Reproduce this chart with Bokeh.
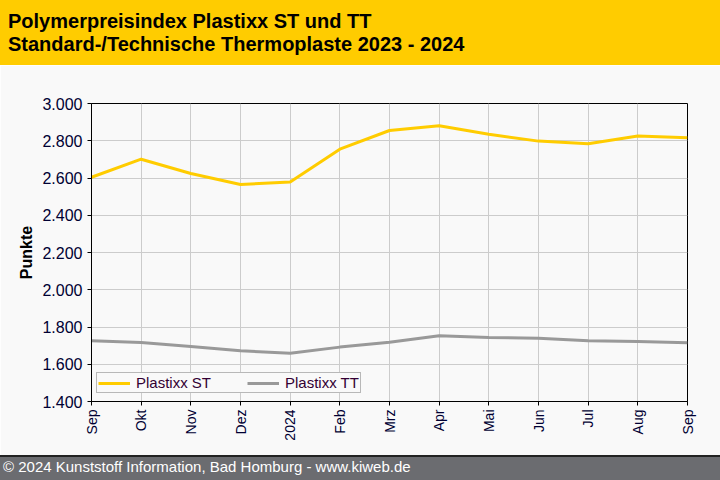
import math
from bokeh.plotting import figure
from bokeh.models import Range1d, FixedTicker, Div, Legend
from bokeh.layouts import column
from bokeh.embed import file_html
from bokeh.resources import INLINE

# ---- data ----
months = ["Sep", "Okt", "Nov", "Dez", "2024", "Feb", "Mrz", "Apr", "Mai", "Jun", "Jul", "Aug", "Sep"]
plastixx_st = [2604, 2701, 2624, 2565, 2578, 2755, 2855, 2880, 2835, 2798, 2784, 2826, 2816]
plastixx_tt = [1726, 1717, 1695, 1672, 1659, 1692, 1718, 1753, 1744, 1740, 1726, 1722, 1715]
y_ticks = [1400, 1600, 1800, 2000, 2200, 2400, 2600, 2800, 3000]
y_tick_labels = ["1.400", "1.600", "1.800", "2.000", "2.200", "2.400", "2.600", "2.800", "3.000"]
title_lines = ["Polymerpreisindex Plastixx ST und TT", "Standard-/Technische Thermoplaste 2023 - 2024"]
footer_text = "\u00a9 2024 Kunststoff Information, Bad Homburg - www.kiweb.de"

FONT = "Liberation Sans"
BG = "#f9f9f9"
x = list(range(len(months)))

header = Div(
    text=("<div style=\"font-family:'Liberation Sans',Arial,sans-serif;font-size:20px;"
          "font-weight:bold;color:#000;line-height:23px;padding:10px 0 0 8px;white-space:nowrap;\">"
          + title_lines[0] + "<br>" + title_lines[1] + "</div>"),
    width=720, height=65, margin=(0, 0, 0, 0),
    styles={"background-color": "#ffcc00", "overflow": "hidden"},
)

p = figure(width=720, height=390, output_backend="svg", toolbar_location=None,
           x_range=Range1d(0, 12), y_range=Range1d(1400, 3000),
           min_border_left=91, min_border_right=33, min_border_top=38, min_border_bottom=54)
p.margin = (0, 0, 0, 0)
p.background_fill_color = BG
p.border_fill_color = BG
p.outline_line_color = "black"
p.outline_line_width = 1

r_st = p.line(x, plastixx_st, line_color="#ffcc00", line_width=3)
r_tt = p.line(x, plastixx_tt, line_color="#999999", line_width=3)

# axes
p.xaxis.ticker = FixedTicker(ticks=x)
p.xaxis.major_label_overrides = {i: m for i, m in enumerate(months)}
p.xaxis.major_label_orientation = math.pi / 2
p.xaxis.major_label_text_font = FONT
p.xaxis.major_label_text_font_size = "14px"
p.xaxis.major_label_text_color = "#000033"
p.xaxis.major_label_standoff = 4
p.xaxis.minor_tick_line_color = None
p.xaxis.major_tick_in = 0
p.xaxis.major_tick_out = 4
p.xaxis.axis_line_color = "black"
p.xaxis.major_tick_line_color = "black"

p.yaxis.ticker = FixedTicker(ticks=y_ticks)
p.yaxis.major_label_overrides = {t: l for t, l in zip(y_ticks, y_tick_labels)}
p.yaxis.major_label_text_font = FONT
p.yaxis.major_label_text_font_size = "16px"
p.yaxis.major_label_text_color = "#000033"
p.yaxis.major_label_standoff = 5
p.yaxis.minor_tick_line_color = None
p.yaxis.major_tick_in = 0
p.yaxis.major_tick_out = 4
p.yaxis.axis_line_color = "black"
p.yaxis.major_tick_line_color = "black"
p.yaxis.axis_label = "Punkte"
p.yaxis.axis_label_text_font = FONT
p.yaxis.axis_label_text_font_size = "16px"
p.yaxis.axis_label_text_font_style = "bold"
p.yaxis.axis_label_text_color = "black"
p.yaxis.axis_label_standoff = 4

p.xgrid.grid_line_color = "#cccccc"
p.ygrid.grid_line_color = "#cccccc"

legend = Legend(items=[("Plastixx ST", [r_st]), ("Plastixx TT", [r_tt])],
                orientation="horizontal", location=(5, 8), margin=0,
                padding=1, spacing=36, glyph_width=32, glyph_height=14,
                label_standoff=6, label_height=14,
                label_text_font=FONT, label_text_font_size="15px",
                label_text_color="#330033",
                border_line_color="#777777", border_line_width=1,
                background_fill_color=BG, background_fill_alpha=1)
p.add_layout(legend, "center")

footer = Div(
    text=("<div style=\"font-family:'Liberation Sans',Arial,sans-serif;font-size:15px;"
          "color:#ffffff;line-height:17px;padding:1px 0 0 3px;white-space:nowrap;\">"
          + footer_text + "</div>"),
    width=720, height=25, margin=(0, 0, 0, 0),
    styles={"background-color": "#6b6c70", "border-top": "2px solid #222222",
            "box-sizing": "border-box", "overflow": "hidden"},
)

layout = column(header, p, footer, spacing=0)
open("out.html", "w").write(file_html(layout, INLINE))
